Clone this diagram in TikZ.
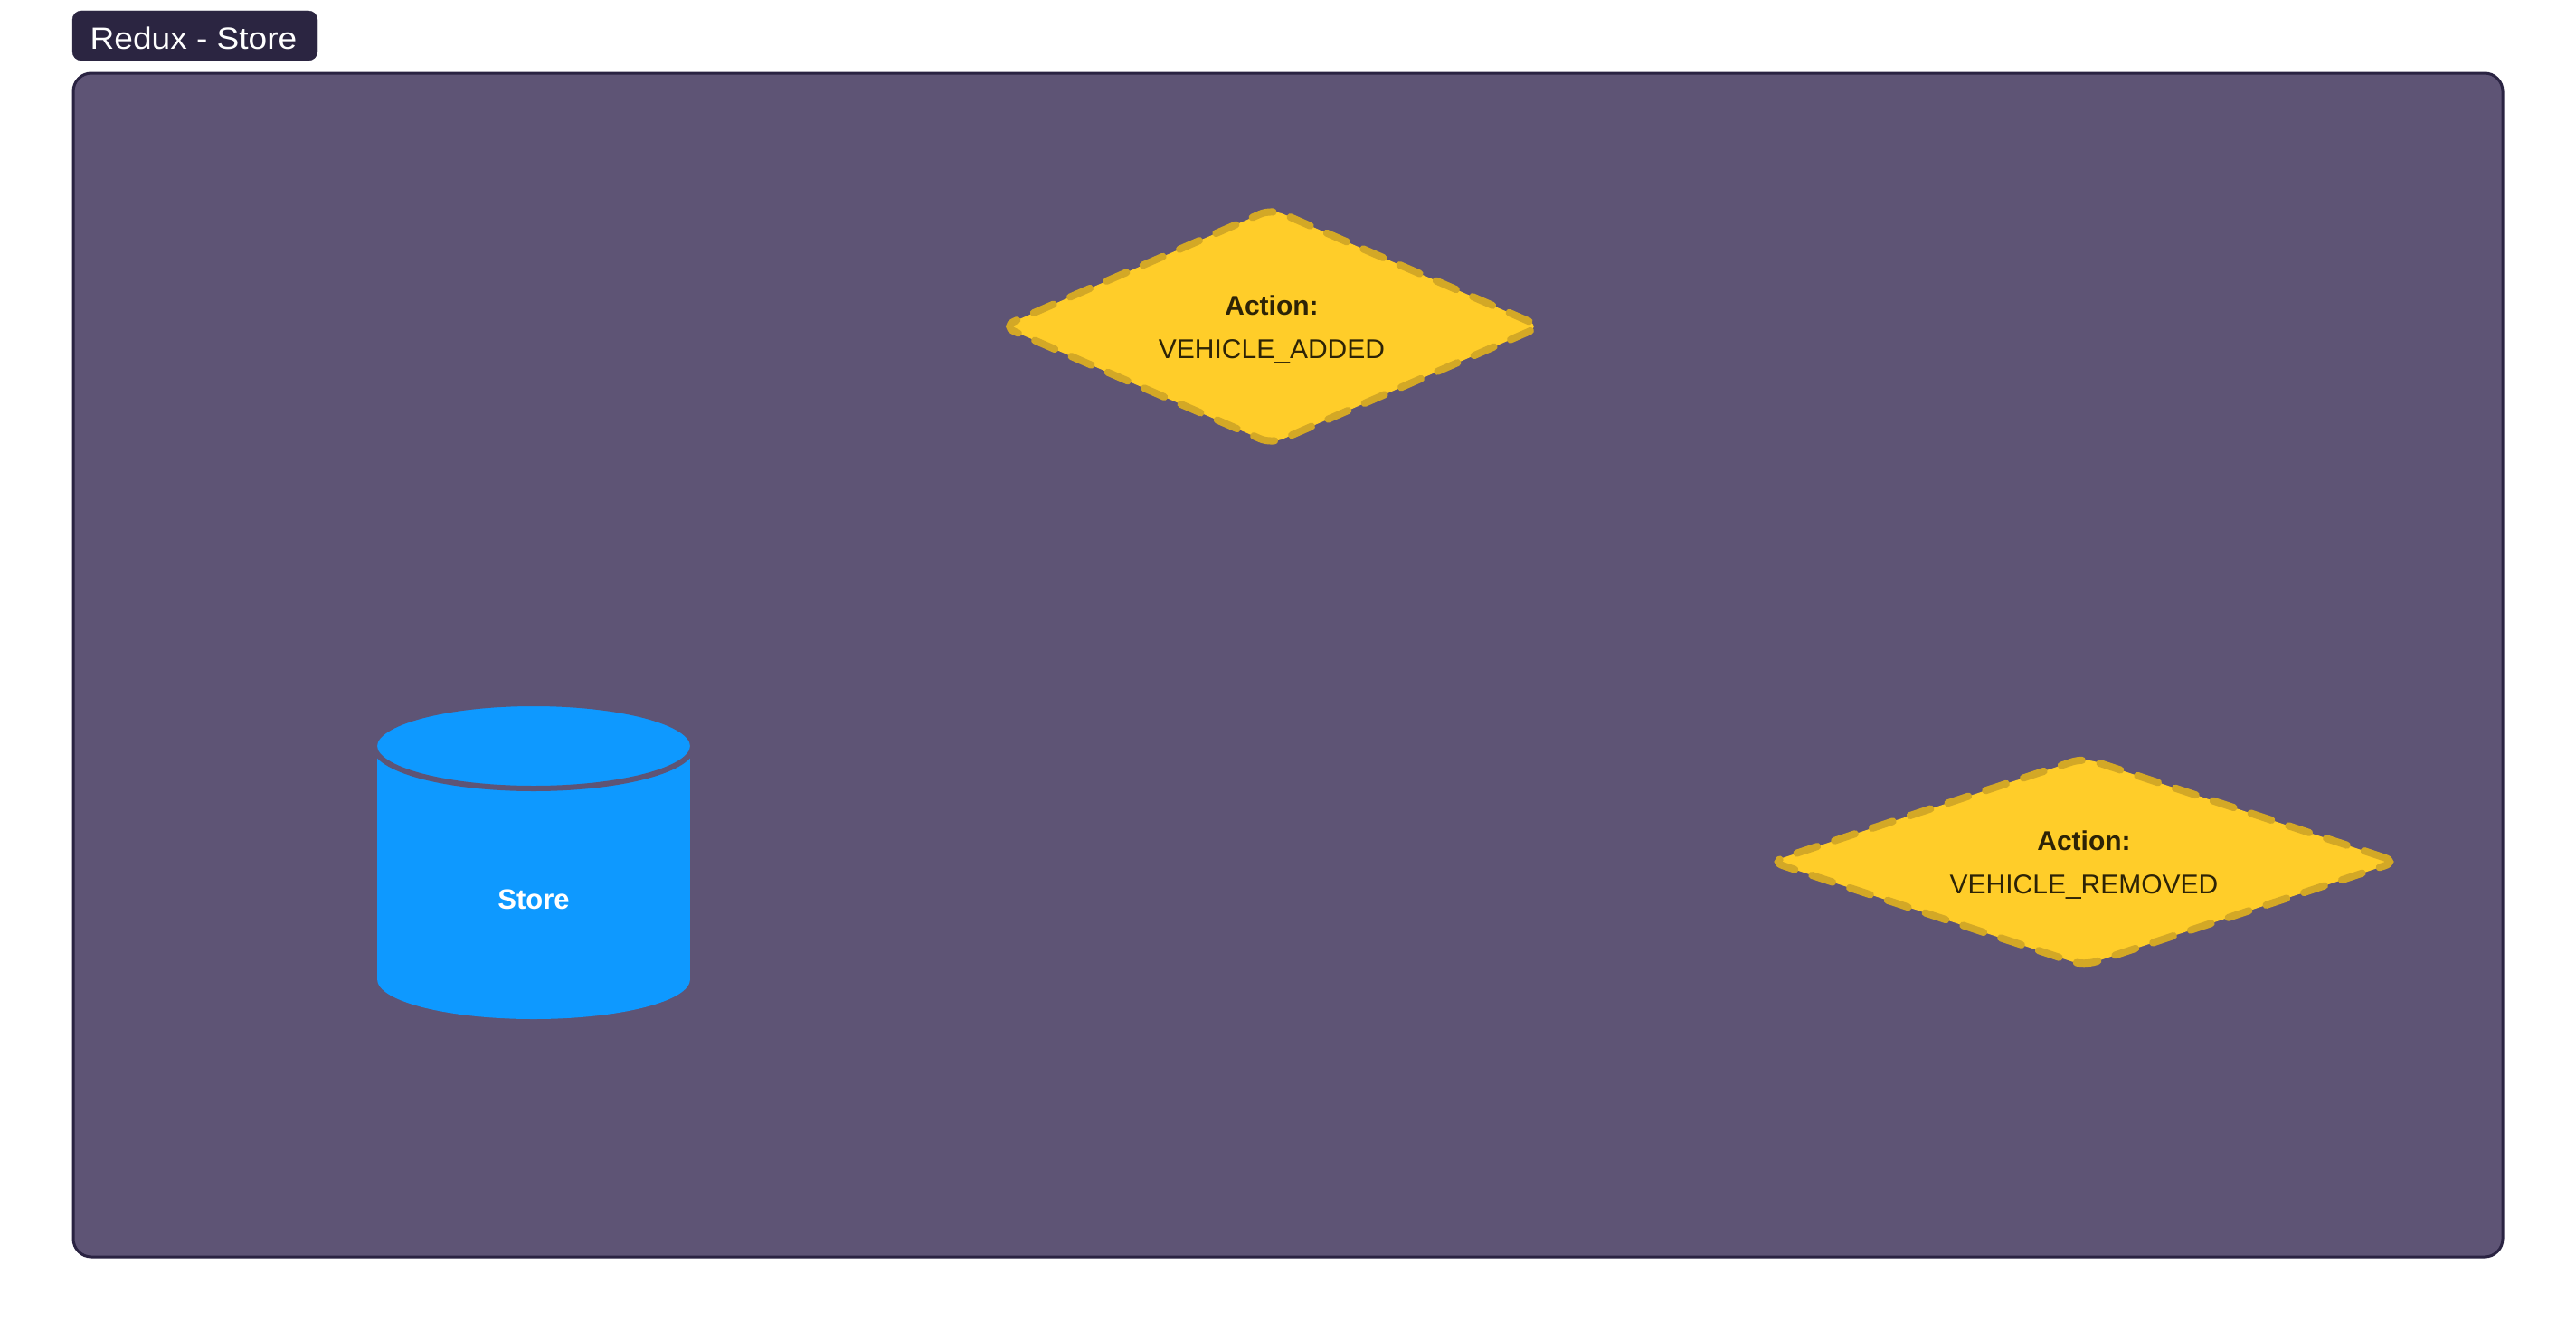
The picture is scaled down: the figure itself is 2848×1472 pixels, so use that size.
\documentclass[tikz,border=0pt]{standalone}
\usepackage{fontspec}
\setmainfont{Liberation Sans}
\newfontfamily\tabfont{Liberation Sans}[FakeStretch=1.09]
\usetikzlibrary{shapes.geometric}
\definecolor{framefill}{HTML}{5E5475}
\definecolor{frameline}{HTML}{2A2342}
\definecolor{tabfill}{HTML}{2B2541}
\definecolor{storeblue}{HTML}{0E99FF}
\definecolor{actionfill}{HTML}{FFCD29}
\definecolor{actionline}{HTML}{D3A826}
\definecolor{actiontext}{HTML}{2D2306}
\tikzset{
	action/.style={diamond, aspect=1.9, inner sep=0pt, fill=actionfill, draw=actionline, line width=8pt,
		dash pattern=on 24pt off 20pt, line cap=round, rounded corners=14pt},
	actionlabel/.style={align=center, inner sep=0pt, text=actiontext, font=\fontsize{30}{48}\selectfont},
	tablabel/.style={text=white, inner sep=0pt, font=\tabfont\fontsize{34}{40}\selectfont}
}

\begin{document}
\begin{tikzpicture}[x=1pt, y=-1pt]
			%%%%% START %%%%%
			\useasboundingbox (0, 0) rectangle (2848, 1472);
			
			% title tab
			\draw[fill=tabfill, draw=tabfill, rounded corners=10pt] (80, 12) rectangle (351, 67);
			\node[tablabel, anchor=base] (title) at (214, 55) {Redux - Store};
			
			% frame
			\draw[line width=3pt, draw=frameline, fill=framefill, rounded corners=20pt] (81, 81) rectangle (2767, 1390);
			
			% store
			\fill[storeblue] (417, 825) rectangle (763, 1083);
			\fill[storeblue] (590, 1083) ellipse [x radius=173pt, y radius=44pt];
			\draw[fill=storeblue, draw=framefill, line width=6pt] (590, 825) ellipse [x radius=176pt, y radius=47pt];
			\node[text=white, font=\bfseries\fontsize{31}{36}\selectfont] (store) at (590, 995) {Store};
			
			% actions
			\node[action, minimum width=598pt, minimum height=263pt] (added) at (1406, 361) {};
			\node[actionlabel] (addedtext) at ([yshift=-4pt]added.center) {\textbf{Action:}\\VEHICLE\_ADDED};
			\node[action, minimum width=695pt, minimum height=233pt] (removed) at (2304, 953) {};
			\node[actionlabel] (removedtext) at ([yshift=-4pt]removed.center) {\textbf{Action:}\\VEHICLE\_REMOVED};
			
			%%%%% END %%%%%
\end{tikzpicture}
\end{document}
